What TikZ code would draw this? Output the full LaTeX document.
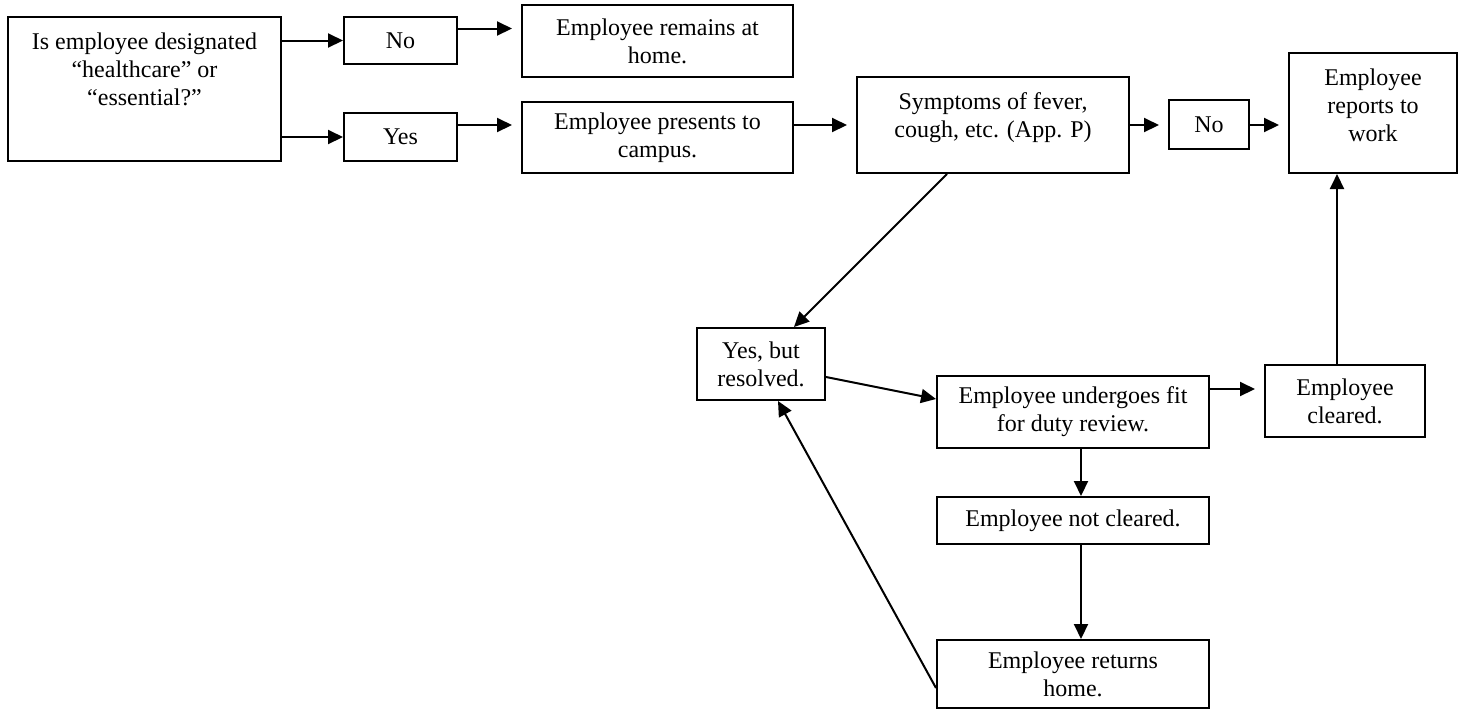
\documentclass[tikz,border=0pt]{standalone}
\usepackage{fontspec}
\setmainfont{Liberation Serif}
\usetikzlibrary{arrows.meta,positioning}

\begin{document}
\begin{tikzpicture}[x=0.5pt,y=-0.5pt,
  box/.style={draw,line width=1pt,align=center,inner sep=0pt,font=\fontsize{12}{14}\selectfont},
  topbox/.style={box,label={[anchor=north,align=center,inner sep=0pt,yshift=-8pt,font=\fontsize{12}{14}\selectfont]north:{#1}}},
  >={Triangle[length=7.5pt,width=7pt]},
  gap/.style={shorten >=4.5pt}]
  \useasboundingbox (0,0) rectangle (1467,709);
  % first column: the question and its two answers
  \node[topbox={Is employee designated\\“healthcare” or\\“essential?”},minimum width=136.5pt,minimum height=72pt] (desig) at (144.5,89) {};
  \node[box,minimum width=56.5pt,minimum height=23.5pt] (no1) at (400.5,40.5) {No};
  \node[box,minimum width=56.5pt,minimum height=24pt] (yes) at (400.5,137) {Yes};
  \node[box,minimum width=135.5pt,minimum height=36pt] (home) at (657.5,41) {Employee remains at\\home.};
  \node[box,minimum width=135.5pt,minimum height=35.5pt] (campus) at (657.5,137.5) {Employee presents to\\campus.};
  \node[topbox={Symptoms of fever,\\cough, etc. (App. P)},minimum width=136pt,minimum height=48pt] (sympt) at (993,125) {};
  \node[box,minimum width=40pt,minimum height=24.5pt] (no2) at (1209,124.5) {No};
  \node[topbox={Employee\\reports to\\work},minimum width=84pt,minimum height=60pt] (work) at (1373,113) {};
  % review loop
  \node[box,minimum width=64pt,minimum height=36pt] (resolved) at (761,364) {Yes, but\\resolved.};
  \node[box,minimum width=136pt,minimum height=36pt] (review) at (1073,412) {Employee undergoes fit\\for duty review.};
  \node[box,minimum width=80pt,minimum height=36pt] (cleared) at (1345,401) {Employee\\cleared.};
  \node[box,minimum width=136pt,minimum height=23.5pt] (notcl) at (1073,520.5) {Employee not cleared.};
  \node[box,minimum width=136pt,minimum height=34pt] (returns) at (1073,674) {Employee returns\\home.};

  \draw[->,line width=1pt] (no1 -| desig.east) -- (no1.west);
  \draw[->,line width=1pt] (yes -| desig.east) -- (yes.west);
  \draw[->,line width=1pt,gap] ([yshift=6pt]no1.east) -- ([yshift=6pt]no1.east -| home.west);
  \draw[->,line width=1pt,gap] (yes.east |- sympt) -- (campus.west |- sympt);
  \draw[->,line width=1pt,gap] (campus.east |- sympt) -- (sympt.west);
  \draw[->,line width=1pt,gap] (sympt.east) -- (no2.west |- sympt);
  \draw[->,line width=1pt,gap] (no2.east |- sympt) -- (work.west |- sympt);
  \draw[->,line width=1pt] ([xshift=-23pt]sympt.south) -- ([xshift=16.5pt]resolved.north);
  \draw[->,line width=1pt] ([yshift=-6.5pt]resolved.east) -- ([yshift=6.5pt]review.west);
  \draw[->,line width=1pt,gap] ([yshift=11.5pt]review.east) -- ([yshift=11.5pt]review.east -| cleared.west);
  \draw[->,line width=1pt] ([xshift=-4pt]cleared.north) -- ([xshift=-4pt]cleared.north |- work.south);
  \draw[->,line width=1pt] ([xshift=4pt]review.south) -- ([xshift=4pt]notcl.north);
  \draw[->,line width=1pt] ([xshift=4pt]notcl.south) -- ([xshift=4pt]returns.north);
  \draw[->,line width=1pt] ([yshift=-7pt]returns.west) -- ([xshift=8.5pt]resolved.south);
\end{tikzpicture}
\end{document}
